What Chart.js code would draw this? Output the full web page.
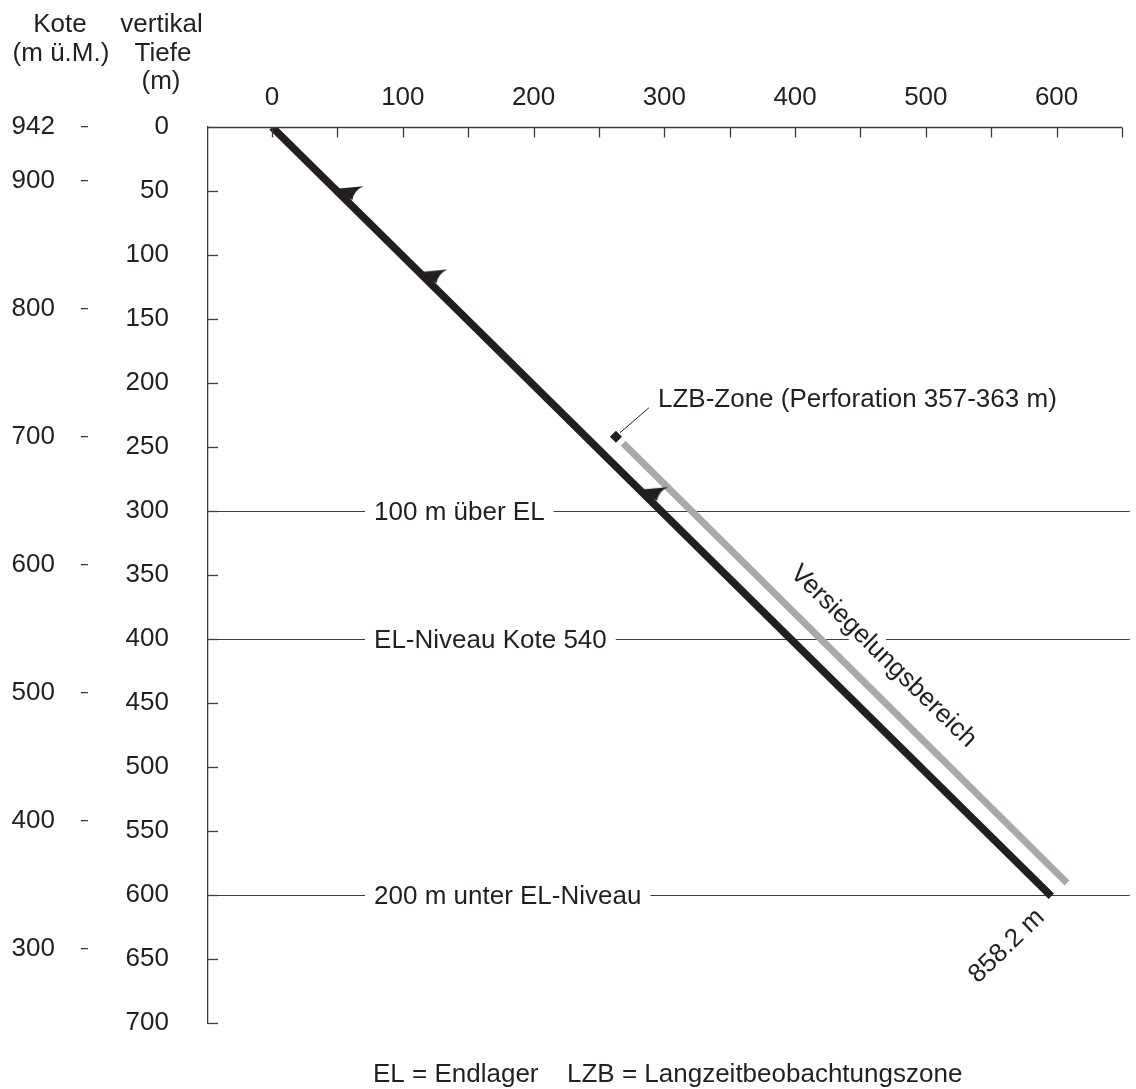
<!DOCTYPE html>
<html>
<head>
<meta charset="utf-8">
<script src="https://cdn.jsdelivr.net/npm/chart.js@4"></script>
<style>
    html, body { margin: 0; padding: 0; background: #fff; }
</style>
</head>
<body>
<canvas id="myChart" width="1136" height="1089"></canvas>
<script>
// horizontal distance (m) ticks, vertical depth (m) ticks, elevation (m ü.M.) ticks
var xTicks = [0, 50, 100, 150, 200, 250, 300, 350, 400, 450, 500, 550, 600, 650];
var depthTicks = [0, 50, 100, 150, 200, 250, 300, 350, 400, 450, 500, 550, 600, 650, 700];
var koteTicks = [942, 900, 800, 700, 600, 500, 400, 300];

// borehole trace
var boreholeX = [0, 596];
var boreholeDepth = [0, 601];
// sealed section (Versiegelungsbereich)
var sealX = [268.5, 608];
var sealDepth = [247, 590.6];
// barbs along the borehole
var flagX = [49.6, 114, 282.6];
var flagDepth = [50, 115, 285];
// LZB zone marker
var lzbX = [263];
var lzbDepth = [242];

// reference levels
var levelDepths = [300, 400, 600];
var levelLabels = ['100 m über EL', 'EL-Niveau Kote 540', '200 m unter EL-Niveau'];

var INK = '#231f20';
var AXIS = '#3c3c3c';
var GREY = '#a7a9ac';
var FONT = '26px "Liberation Sans", Arial, sans-serif';

Chart.defaults.font.family = '"Liberation Sans", Arial, sans-serif';
Chart.defaults.font.size = 26;
Chart.defaults.color = INK;

function pts(xs, ys) {
    return xs.map(function (x, i) { return { x: x, y: ys[i] }; });
}

function makeFlag() {
    var c = document.createElement('canvas');
    c.width = 60; c.height = 60;
    var g = c.getContext('2d');
    g.fillStyle = INK;
    g.beginPath();
    g.moveTo(30, 30);
    g.lineTo(32.4, 27.5);
    g.lineTo(56.4, 25.2);
    g.quadraticCurveTo(47, 29.5, 45.4, 39);
    g.closePath();
    g.fill();
    return c;
}

function hline(ctx, x1, x2, y) {
    ctx.beginPath();
    ctx.moveTo(x1, y);
    ctx.lineTo(x2, y);
    ctx.stroke();
}

var annotations = {
    id: 'annotations',
    beforeDatasetsDraw: function (chart) {
        var ctx = chart.ctx, a = chart.chartArea;
        var xs = chart.scales.x, ys = chart.scales.y;
        ctx.save();
        ctx.font = FONT;
        ctx.fillStyle = INK;
        ctx.strokeStyle = AXIS;
        ctx.lineWidth = 1.2;
        ctx.textBaseline = 'middle';
        ctx.textAlign = 'left';
        var labelX = xs.getPixelForValue(78);
        levelDepths.forEach(function (d, i) {
            var y = Math.round(ys.getPixelForValue(d)) + 0.5;
            var w = ctx.measureText(levelLabels[i]).width;
            hline(ctx, a.left, labelX - 9, y);
            hline(ctx, labelX + w + 9, a.right, y);
            ctx.fillText(levelLabels[i], labelX, y + 1);
        });

        // Versiegelungsbereich, rotated along the sealed section, knocks out the level line
        var tx = xs.getPixelForValue(468), ty = ys.getPixelForValue(413);
        ctx.translate(tx, ty);
        ctx.rotate(44.3 * Math.PI / 180);
        ctx.textAlign = 'center';
        var vw = ctx.measureText('Versiegelungsbereich').width;
        ctx.fillStyle = '#fff';
        ctx.fillRect(-vw / 2 - 4, -13, vw + 8, 26);
        ctx.fillStyle = INK;
        ctx.fillText('Versiegelungsbereich', 0, 1);
        ctx.restore();
    },
    afterDraw: function (chart) {
        var ctx = chart.ctx, a = chart.chartArea;
        var xs = chart.scales.x, ys = chart.scales.y;
        ctx.save();
        ctx.strokeStyle = AXIS;
        ctx.lineWidth = 1.3;
        // top axis line and inward ticks
        var top = Math.round(a.top) + 0.5;
        hline(ctx, a.left, xs.getPixelForValue(650), top);
        xTicks.forEach(function (v) {
            var px = Math.round(xs.getPixelForValue(v)) + 0.5;
            ctx.beginPath();
            ctx.moveTo(px, top);
            ctx.lineTo(px, top + 10);
            ctx.stroke();
        });
        depthTicks.forEach(function (v) {
            if (v === 0) return;
            var py = Math.round(ys.getPixelForValue(v)) + 0.5;
            hline(ctx, a.left, a.left + 10, py);
        });

        ctx.font = FONT;
        ctx.fillStyle = INK;
        ctx.textBaseline = 'alphabetic';
        ctx.textAlign = 'center';
        // axis headers
        ctx.fillText('Kote', 60, 32);
        ctx.fillText('(m ü.M.)', 61, 60.5);
        ctx.fillText('vertikal', 161.5, 32);
        ctx.fillText('Tiefe', 163, 60.5);
        ctx.fillText('(m)', 161, 89);

        // LZB zone leader and label
        var mx = xs.getPixelForValue(lzbX[0]), my = ys.getPixelForValue(lzbDepth[0]);
        ctx.strokeStyle = INK;
        ctx.lineWidth = 1;
        ctx.beginPath();
        ctx.moveTo(mx + 4, my - 4);
        ctx.lineTo(mx + 33, my - 29);
        ctx.stroke();
        ctx.textAlign = 'left';
        ctx.fillText('LZB-Zone (Perforation 357-363 m)', mx + 42, my - 30);

        // measured depth at bottom of borehole
        ctx.save();
        ctx.translate(xs.getPixelForValue(562), ys.getPixelForValue(640));
        ctx.rotate(-44 * Math.PI / 180);
        ctx.textAlign = 'center';
        ctx.textBaseline = 'middle';
        ctx.fillText('858.2 m', 0, 0);
        ctx.restore();

        // abbreviations
        ctx.textAlign = 'left';
        ctx.fillText('EL = Endlager', 373, 1082);
        ctx.fillText('LZB = Langzeitbeobachtungszone', 567, 1082);
        ctx.restore();
    }
};

var ctx = document.getElementById('myChart');
var wellChart = new Chart(ctx, {
    type: 'line',
    data: {
        datasets: [{
            label: 'Barbs',
            data: pts(flagX, flagDepth),
            showLine: false,
            pointStyle: makeFlag(),
            pointRadius: 5,
            order: 0
        }, {
            label: 'LZB-Zone',
            data: pts(lzbX, lzbDepth),
            showLine: false,
            pointStyle: 'rectRot',
            pointRadius: 6,
            backgroundColor: INK,
            borderColor: INK,
            borderWidth: 0,
            order: 0
        }, {
            label: 'Bohrung',
            data: pts(boreholeX, boreholeDepth),
            borderColor: INK,
            borderWidth: 7.5,
            pointRadius: 0,
            clip: 0,
            order: 1
        }, {
            label: 'Versiegelungsbereich',
            data: pts(sealX, sealDepth),
            borderColor: GREY,
            borderWidth: 7,
            pointRadius: 0,
            order: 2
        }]
    },
    options: {
        responsive: false,
        animation: false,
        layout: { padding: { top: 67, bottom: 66, left: 0, right: 0 } },
        plugins: {
            legend: { display: false },
            tooltip: { enabled: false }
        },
        scales: {
            x: {
                type: 'linear',
                position: 'top',
                min: -49,
                max: 656,
                grid: { display: false, drawTicks: false },
                border: { display: false },
                afterBuildTicks: function (scale) {
                    scale.ticks = xTicks.map(function (v) { return { value: v }; });
                },
                afterFit: function (scale) { scale.height = 60; },
                ticks: {
                    padding: 14,
                    autoSkip: false,
                    maxRotation: 0,
                    callback: function (v) {
                        return (v % 100 === 0 && v <= 600) ? String(v) : '';
                    }
                }
            },
            y: {
                type: 'linear',
                position: 'left',
                reverse: true,
                min: 0,
                max: 700,
                weight: 0,
                grid: { display: false, drawTicks: false },
                border: { display: true, color: AXIS, width: 1.3 },
                afterBuildTicks: function (scale) {
                    scale.ticks = depthTicks.map(function (v) { return { value: v }; });
                },
                afterFit: function (scale) { scale.width = 120; },
                ticks: { padding: 39, autoSkip: false }
            },
            kote: {
                type: 'linear',
                position: 'left',
                min: 242,
                max: 942,
                weight: 1,
                grid: { drawOnChartArea: false, drawTicks: true, tickLength: 7, color: '#3c3c3c', lineWidth: 1.3 },
                border: { display: false },
                afterBuildTicks: function (scale) {
                    scale.ticks = koteTicks.map(function (v) { return { value: v }; });
                },
                afterFit: function (scale) { scale.width = 88; },
                ticks: { padding: 26, autoSkip: false }
            }
        }
    },
    plugins: [annotations]
});
</script>
</body>
</html>
